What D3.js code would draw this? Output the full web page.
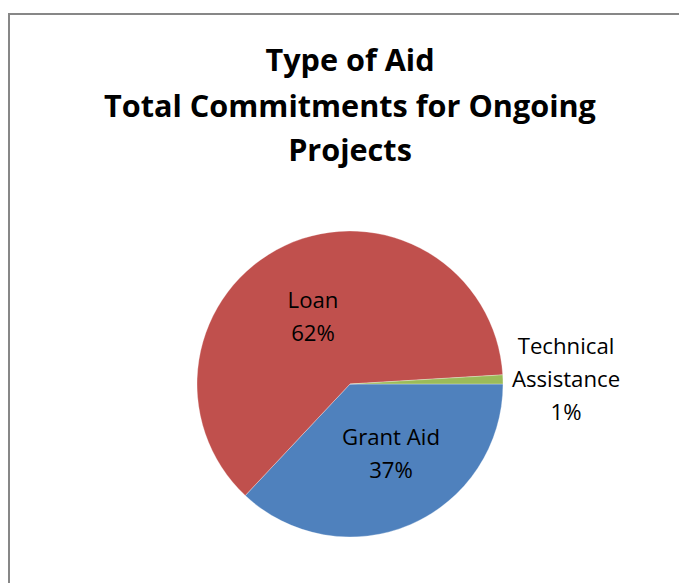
<!DOCTYPE html>
<html>
<head>
<meta charset="utf-8">
<script src="https://cdn.jsdelivr.net/npm/d3@7"></script>
<style>
html,body{margin:0;padding:0;background:#fff;}
svg{display:block;}
</style>
</head>
<body>
<svg id="chart" width="679" height="583"></svg>
<script>
const categories = ["Grant Aid", "Loan", "Technical Assistance"];
const values = [37.0, 62.05, 0.95];
const labels = [["Grant Aid", "37%"], ["Loan", "62%"], ["Technical", "Assistance", "1%"]];
const colors = ["#4F81BD", "#C0504D", "#9BBB59"];
const titleLines = ["Type of Aid", "Total Commitments for Ongoing", "Projects"];

const svg = d3.select("#chart");
const font = "'Open Sans', 'Noto Sans', sans-serif";

// frame
svg.append("rect").attr("x", 9).attr("y", 14).attr("width", 700).attr("height", 600)
  .attr("fill", "#fff").attr("stroke", "#878787").attr("stroke-width", 2);

// title
const titleY = [71, 117, 161];
const tg = svg.append("g");
titleLines.forEach((t, i) => {
  tg.append("text").attr("x", 350).attr("y", titleY[i]).attr("text-anchor", "middle")
    .attr("font-family", font).attr("font-weight", "bold").attr("font-size", 28)
    .attr("fill", "#000").text(t);
});
// fit title width to ~492px for the longest line
{
  const n = tg.selectAll("text").nodes()[1];
  const w = n.getComputedTextLength();
  const fs = 28 * 492 / w;
  tg.selectAll("text").attr("font-size", fs);
}

// pie
const cx = 350, cy = 384, r = 153;
const data = categories.map((c, i) => ({c, v: values[i], i}));
const pie = d3.pie().value(d => d.v).sort(null).startAngle(Math.PI / 2).endAngle(Math.PI / 2 + 2 * Math.PI);
const arc = d3.arc().innerRadius(0).outerRadius(r);
const arcs = pie(data);
const g = svg.append("g").attr("transform", `translate(${cx},${cy})`);
g.selectAll("path").data(arcs).join("path")
  .attr("d", arc).attr("fill", d => colors[d.data.i])
  .attr("stroke", "#fff").attr("stroke-width", 0.3);

// labels
const labelPos = [[391, 437], [313, 300], [566, 346]];
const lineH = 33;
const lg = svg.append("g");
arcs.forEach((a, k) => {
  const i = a.data.i;
  const [lx, ly] = labelPos[i];
  const t = lg.append("text").attr("text-anchor", "middle")
    .attr("font-family", font).attr("font-size", 20).attr("fill", "#000");
  labels[i].forEach((s, j) => {
    t.append("tspan").attr("x", lx).attr("y", ly + j * lineH).attr("dy", "0.35em").text(s);
  });
});
// fit label font so "Grant Aid" ~98px wide
{
  const tmp = svg.append("text").attr("font-family", font).attr("font-size", 20).text("Grant Aid");
  const w = tmp.node().getComputedTextLength();
  tmp.remove();
  lg.selectAll("text").attr("font-size", 20 * 98 / w);
}
</script>
</body>
</html>
